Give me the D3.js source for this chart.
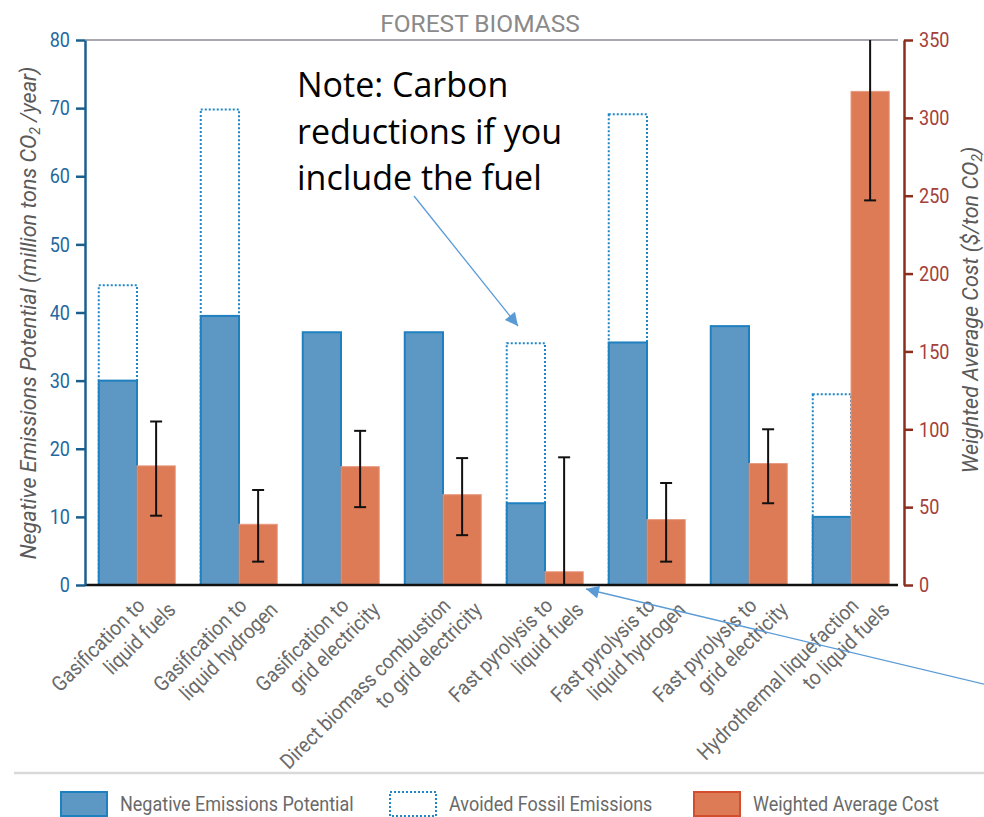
<!DOCTYPE html>
<html>
<head>
<meta charset="utf-8">
<script src="https://cdn.jsdelivr.net/npm/d3@7"></script>
<style>
  body { margin: 0; background: #fff; }
  svg { display: block; }
</style>
</head>
<body>
<div id="chart"></div>
<script>
// chart data
var categories = [
  "Gasification to\nliquid fuels",
  "Gasification to\nliquid hydrogen",
  "Gasification to\ngrid electricity",
  "Direct biomass combustion\nto grid electricity",
  "Fast pyrolysis to\nliquid fuels",
  "Fast pyrolysis to\nliquid hydrogen",
  "Fast pyrolysis to\ngrid electricity",
  "Hydrothermal liquefaction\nto liquid fuels"
];
var negEmissions = [30, 39.5, 37.1, 37.1, 12, 35.6, 38, 10];
var avoidedEmissions = [44, 69.8, null, null, 35.5, 69.1, null, 28];
var cost = [76.5, 39, 76, 58, 8.5, 42, 78, 317];
var costLow = [44.5, 15, 50, 32, 0, 15, 52.5, 247];
var costHigh = [105, 61, 99, 81.5, 82, 65.5, 100, 370];
var leftTicks = [0, 10, 20, 30, 40, 50, 60, 70, 80];
var rightTicks = [0, 50, 100, 150, 200, 250, 300, 350];
var legendLabels = ["Negative Emissions Potential", "Avoided Fossil Emissions", "Weighted Average Cost"];
var noteLines = ["Note: Carbon", "reductions if you", "include the fuel"];

var W = 984, H = 817;
var pLeft = 85, pRight = 904, pTop = 40, pBottom = 585;
var font = 'Roboto, "Liberation Sans", sans-serif';

var svg = d3.select("#chart").append("svg")
  .attr("width", W).attr("height", H);

var x0 = d3.scaleBand().domain(d3.range(categories.length))
  .range([86, 902]).paddingInner(0.25).paddingOuter(0.125);
var x1 = d3.scaleBand().domain(["neg", "cost"]).range([0, x0.bandwidth()]);
var yL = d3.scaleLinear().domain([0, 80]).range([pBottom, pTop]);
var yR = d3.scaleLinear().domain([0, 350]).range([pBottom, pTop]);

var defs = svg.append("defs");
defs.append("clipPath").attr("id", "plot")
  .append("rect").attr("x", pLeft).attr("y", pTop).attr("width", pRight - pLeft).attr("height", pBottom - pTop + 2);

var marker = defs.append("marker")
  .attr("id", "arrow").attr("viewBox", "0 0 10 10")
  .attr("refX", 10).attr("refY", 5)
  .attr("markerWidth", 14).attr("markerHeight", 13)
  .attr("markerUnits", "userSpaceOnUse")
  .attr("orient", "auto");
marker.append("path").attr("d", "M0,0 L10,5 L0,10 z").attr("fill", "#5b9bd5");

// title
svg.append("text").attr("x", 480).attr("y", 32)
  .attr("text-anchor", "middle")
  .style("font-family", font).style("font-size", "24.5px").style("fill", "#8a8a8a")
  .text("FOREST BIOMASS");

// top gray rule
svg.append("line").attr("x1", pLeft).attr("x2", 898).attr("y1", pTop).attr("y2", pTop)
  .attr("stroke", "#a8a8b0").attr("stroke-width", 2);

var plot = svg.append("g").attr("clip-path", "url(#plot)");

// avoided emissions (dotted outline)
plot.selectAll("rect.avoided")
  .data(avoidedEmissions.map(function(d, i) { return {v: d, i: i}; }).filter(function(d) { return d.v != null; }))
  .enter().append("rect").attr("class", "avoided")
  .attr("x", function(d) { return x0(d.i) + x1("neg"); })
  .attr("width", x1.bandwidth())
  .attr("y", function(d) { return yL(d.v); })
  .attr("height", function(d) { return yL(0) - yL(d.v); })
  .attr("fill", "none")
  .attr("stroke", "#1f87c6").attr("stroke-width", 2)
  .attr("stroke-dasharray", "2,2");

// negative emissions
plot.selectAll("rect.neg").data(negEmissions)
  .enter().append("rect").attr("class", "neg")
  .attr("x", function(d, i) { return x0(i) + x1("neg"); })
  .attr("width", x1.bandwidth())
  .attr("y", function(d) { return yL(d); })
  .attr("height", function(d) { return yL(0) - yL(d); })
  .attr("fill", "#5d98c5")
  .attr("stroke", "#1f80c0").attr("stroke-width", 2);

// cost
plot.selectAll("rect.cost").data(cost)
  .enter().append("rect").attr("class", "cost")
  .attr("x", function(d, i) { return x0(i) + x1("cost"); })
  .attr("width", x1.bandwidth())
  .attr("y", function(d) { return yR(d); })
  .attr("height", function(d) { return yR(0) - yR(d); })
  .attr("fill", "#dd7b56")
  .attr("stroke", "#e89a80").attr("stroke-width", 1);

// error bars
var eb = plot.selectAll("g.err").data(cost).enter().append("g").attr("class", "err")
  .attr("transform", function(d, i) { return "translate(" + (x0(i) + x1("cost") + x1.bandwidth() / 2) + ",0)"; });
eb.append("line")
  .attr("y1", function(d, i) { return yR(costLow[i]); })
  .attr("y2", function(d, i) { return yR(costHigh[i]); })
  .attr("stroke", "#111").attr("stroke-width", 2);
eb.append("line").attr("x1", -6).attr("x2", 6)
  .attr("y1", function(d, i) { return yR(costLow[i]); })
  .attr("y2", function(d, i) { return yR(costLow[i]); })
  .attr("stroke", "#111").attr("stroke-width", 2);
eb.append("line").attr("x1", -6).attr("x2", 6)
  .attr("y1", function(d, i) { return yR(costHigh[i]); })
  .attr("y2", function(d, i) { return yR(costHigh[i]); })
  .attr("stroke", "#111").attr("stroke-width", 2);

// baseline
svg.append("line").attr("x1", pLeft).attr("x2", 898).attr("y1", pBottom).attr("y2", pBottom)
  .attr("stroke", "#111").attr("stroke-width", 2.5);

// left axis
var gL = svg.append("g").attr("transform", "translate(" + pLeft + ",0)")
  .call(d3.axisLeft(yL).tickValues(leftTicks).tickSize(9).tickSizeOuter(0).tickPadding(6));
gL.select(".domain").attr("stroke", "#1b5f8c").attr("stroke-width", 2.5);
gL.selectAll(".tick line").attr("stroke", "#1b5f8c").attr("stroke-width", 2.5);
gL.selectAll(".tick text")
  .attr("transform", function() { return "translate(" + d3.select(this).attr("x") + ",0) scale(0.86,1) translate(" + (-d3.select(this).attr("x")) + ",0)"; })
  .style("font-family", font).style("font-size", "21px").style("fill", "#2468a0");

// right axis
var gR = svg.append("g").attr("transform", "translate(" + pRight + ",0)")
  .call(d3.axisRight(yR).tickValues(rightTicks).tickSize(9).tickSizeOuter(0).tickPadding(6));
gR.select(".domain").attr("stroke", "#8c2e1e").attr("stroke-width", 2.5);
gR.selectAll(".tick line").attr("stroke", "#8c2e1e").attr("stroke-width", 2.5);
gR.selectAll(".tick text")
  .attr("transform", function() { return "translate(" + d3.select(this).attr("x") + ",0) scale(0.86,1) translate(" + (-d3.select(this).attr("x")) + ",0)"; })
  .style("font-family", font).style("font-size", "21px").style("fill", "#a3403a");

// axis titles
var tL = svg.append("text").attr("transform", "translate(36,313) rotate(-90)")
  .attr("text-anchor", "middle")
  .style("font-family", font).style("font-size", "21.5px").style("font-style", "italic").style("fill", "#5a5a5a");
tL.append("tspan").text("Negative Emissions Potential (million tons CO");
tL.append("tspan").attr("dy", 4).style("font-size", "14px").text("2");
tL.append("tspan").attr("dy", -4).text(" /year)");

var tR = svg.append("text").attr("transform", "translate(978,310) rotate(-90)")
  .attr("text-anchor", "middle")
  .style("font-family", font).style("font-size", "21.5px").style("font-style", "italic").style("fill", "#5a5a5a");
tR.append("tspan").text("Weighted Average Cost ($/ton CO");
tR.append("tspan").attr("dy", 4).style("font-size", "14px").text("2");
tR.append("tspan").attr("dy", -4).text(")");

// x labels
var xl = svg.selectAll("g.xlab").data(categories).enter().append("g").attr("class", "xlab")
  .attr("transform", function(d, i) { return "translate(" + (x0(i) + x0.bandwidth() / 2) + "," + pBottom + ")"; });
xl.append("text")
  .attr("transform", "translate(9,22) rotate(-45) scale(0.9,1)")
  .attr("text-anchor", "end")
  .style("font-family", font).style("font-size", "21px").style("fill", "#6a6a6a")
  .text(function(d) { return d.split("\n")[0]; });
xl.append("text")
  .attr("transform", "translate(40,26) rotate(-45) scale(0.9,1)")
  .attr("text-anchor", "end")
  .style("font-family", font).style("font-size", "21px").style("fill", "#6a6a6a")
  .text(function(d) { return d.split("\n")[1]; });

// note annotation
svg.append("text").attr("x", 297).attr("y", 97)
  .style("font-family", "'Open Sans', Lato, sans-serif").style("font-size", "34px").style("fill", "#000")
  .selectAll("tspan").data(noteLines).enter().append("tspan")
  .attr("x", 297).attr("dy", function(d, i) { return i === 0 ? 0 : 46.5; })
  .text(function(d) { return d; });

svg.append("line").attr("x1", 414).attr("y1", 196).attr("x2", 518).attr("y2", 326)
  .attr("stroke", "#5b9bd5").attr("stroke-width", 1.3).attr("marker-end", "url(#arrow)");
svg.append("line").attr("x1", 992).attr("y1", 686).attr("x2", 586).attr("y2", 589)
  .attr("stroke", "#5b9bd5").attr("stroke-width", 1.3).attr("marker-end", "url(#arrow)");

// separator
svg.append("line").attr("x1", 14).attr("x2", W).attr("y1", 773).attr("y2", 773)
  .attr("stroke", "#d9d9d9").attr("stroke-width", 2.5);

// legend
var legX = [60, 389, 693];
var lg = svg.selectAll("g.leg").data(legendLabels).enter().append("g").attr("class", "leg")
  .attr("transform", function(d, i) { return "translate(" + legX[i] + ",791)"; });
lg.append("rect").attr("x", 1).attr("y", 1).attr("width", 46).attr("height", 24)
  .attr("fill", function(d, i) { return ["#5d98c5", "#fff", "#dd7b56"][i]; })
  .attr("stroke", function(d, i) { return ["#1f80c0", "#1f87c6", "#d24e2e"][i]; })
  .attr("stroke-width", 2)
  .attr("stroke-dasharray", function(d, i) { return i === 1 ? "2,2" : null; });
lg.append("text").attr("transform", "translate(60,20) scale(0.9,1)")
  .style("font-family", font).style("font-size", "20px").style("fill", "#6a6a6a")
  .text(function(d) { return d; });
</script>
</body>
</html>
